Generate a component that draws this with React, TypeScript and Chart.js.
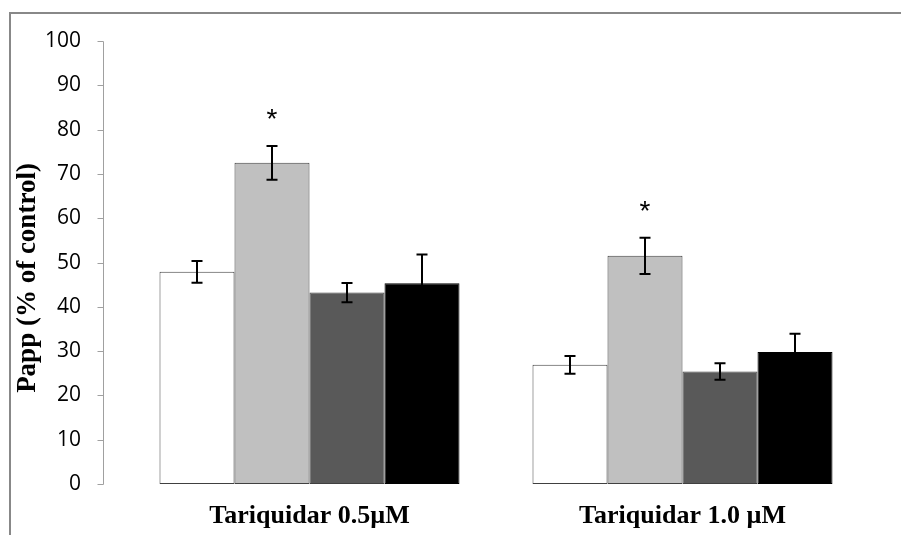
import React, { useEffect, useRef } from "react";
import { Chart, registerables } from "chart.js";

Chart.register(...registerables);

const categories = ["Tariquidar 0.5\u00b5M", "Tariquidar 1.0 \u00b5M"];
const seriesNames = ["Series A", "Series B", "Series C", "Series D"];
const seriesColors = ["#ffffff", "#c0c0c0", "#595959", "#000000"];
const seriesBorders = ["#404040", "#404040", "#404040", "#000000"];
const valuesA = [47.9, 26.9];
const valuesB = [72.5, 51.5];
const valuesC = [43.2, 25.4];
const valuesD = [45.3, 29.8];
const errorsA = [2.45, 2.0];
const errorsB = [3.8, 4.1];
const errorsC = [2.2, 1.85];
const errorsD = [6.5, 4.1];
const significanceB = ["*", "*"];
const yTicks = [0, 10, 20, 30, 40, 50, 60, 70, 80, 90, 100];
const yTitle = "Papp (% of control)";

const allValues = [valuesA, valuesB, valuesC, valuesD];
const allErrors = [errorsA, errorsB, errorsC, errorsD];
const allSignificance = [null, significanceB, null, null];

const decorPlugin = {
  id: "decor",
  beforeDraw(chart: any) {
    const ctx = chart.ctx;
    const yScale = chart.scales.y;
    const area = chart.chartArea;
    ctx.save();
    // outer frame
    ctx.strokeStyle = "#888888";
    ctx.lineWidth = 2;
    ctx.beginPath();
    ctx.moveTo(10, 540);
    ctx.lineTo(10, 13);
    ctx.lineTo(905, 13);
    ctx.stroke();
    // y axis line
    const axX = area.left - 19.5;
    ctx.strokeStyle = "#a0a0a0";
    ctx.lineWidth = 1;
    ctx.beginPath();
    ctx.moveTo(axX, Math.round(yScale.getPixelForValue(100)) + 0.5);
    ctx.lineTo(axX, Math.round(yScale.getPixelForValue(0)) + 0.5);
    ctx.stroke();
    ctx.fillStyle = "#000000";
    ctx.font = "21px 'Open Sans', 'Liberation Sans', sans-serif";
    ctx.textAlign = "right";
    ctx.textBaseline = "middle";
    yTicks.forEach((t) => {
      const py = Math.round(yScale.getPixelForValue(t)) + 0.5;
      ctx.beginPath();
      ctx.moveTo(axX - 6, py);
      ctx.lineTo(axX, py);
      ctx.stroke();
      ctx.fillText(String(t), 81, py);
    });
    // y title
    ctx.translate(28, 278);
    ctx.rotate(-Math.PI / 2);
    ctx.font = "bold 27px 'Liberation Serif', 'Times New Roman', serif";
    ctx.textAlign = "center";
    ctx.textBaseline = "middle";
    ctx.fillText(yTitle, 0, 0);
    ctx.restore();
  },
  afterDatasetsDraw(chart: any) {
    const ctx = chart.ctx;
    const yScale = chart.scales.y;
    ctx.save();
    chart.data.datasets.forEach((ds: any, di: number) => {
      const meta = chart.getDatasetMeta(di);
      meta.data.forEach((bar: any, i: number) => {
        const v = allValues[di][i];
        const e = allErrors[di][i];
        const x = bar.x;
        const yTop = yScale.getPixelForValue(v + e);
        const yBot = yScale.getPixelForValue(v - e);
        ctx.strokeStyle = "#000000";
        ctx.lineWidth = 2;
        ctx.beginPath();
        ctx.moveTo(x, yTop);
        ctx.lineTo(x, yBot);
        ctx.moveTo(x - 5.5, yTop);
        ctx.lineTo(x + 5.5, yTop);
        ctx.moveTo(x - 5.5, yBot);
        ctx.lineTo(x + 5.5, yBot);
        ctx.stroke();
        const sig = allSignificance[di];
        if (sig && sig[i]) {
          ctx.fillStyle = "#000000";
          ctx.font = "28px 'Liberation Sans', Arial, sans-serif";
          ctx.textAlign = "center";
          ctx.textBaseline = "alphabetic";
          ctx.fillText(sig[i], x, yTop - 18);
        }
      });
    });
    ctx.restore();
  },
};

export default function App() {
  const ref = useRef<HTMLCanvasElement | null>(null);
  useEffect(() => {
    document.body.style.margin = "0";
    const canvas = ref.current;
    if (!canvas) return;
    const chart = new Chart(canvas, {
      type: "bar",
      data: {
        labels: categories,
        datasets: seriesNames.map((name, i) => ({
          label: name,
          data: allValues[i],
          backgroundColor: seriesColors[i],
          borderColor: seriesBorders[i],
          borderWidth: 1,
          borderSkipped: false,
          barPercentage: 1,
          categoryPercentage: 300 / 373,
        })),
      },
      options: {
        responsive: false,
        animation: false,
        devicePixelRatio: 1,
        layout: { padding: { left: 0, right: 32, top: 41, bottom: 0 } },
        plugins: {
          legend: { display: false },
          tooltip: { enabled: false },
        },
        scales: {
          x: {
            afterFit: (s: any) => {
              s.height = 51;
            },
            grid: { display: false },
            border: { display: false },
            ticks: {
              padding: 9,
              color: "#000000",
              font: { family: "'Liberation Serif', 'Times New Roman', serif", size: 26, weight: "bold" },
            },
          },
          y: {
            min: 0,
            max: 100,
            afterFit: (s: any) => {
              s.width = 123;
            },
            grid: { display: false },
            border: { display: false },
            ticks: { display: false, stepSize: 10 },
          },
        },
      },
      plugins: [decorPlugin],
    });
    return () => chart.destroy();
  }, []);
  return <canvas ref={ref} width={901} height={535} style={{ display: "block" }} />;
}
